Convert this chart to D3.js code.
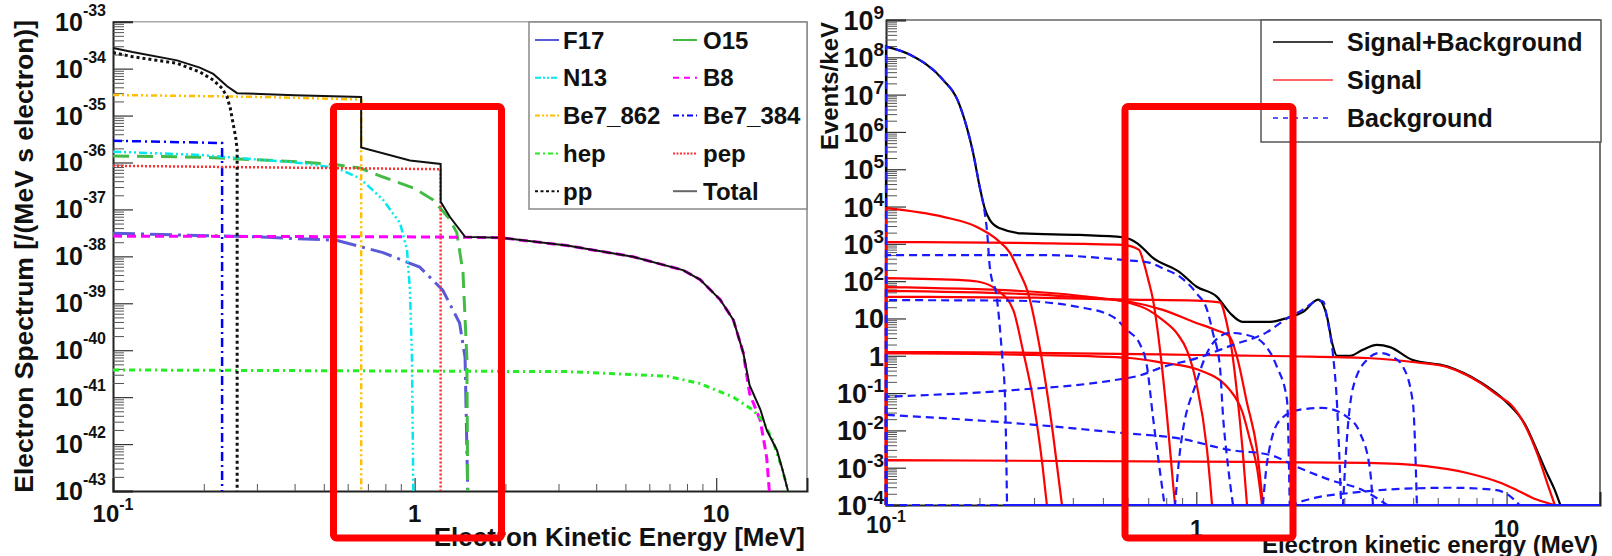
<!DOCTYPE html>
<html><head><meta charset="utf-8">
<script src="https://cdn.jsdelivr.net/npm/d3@7"></script>
<style>body{margin:0;background:#fff;} svg{display:block;font-family:"Liberation Sans",Arial,sans-serif;font-weight:bold;}</style>
</head><body><svg id="c" width="1612" height="556"></svg>
<script>
// ---------------- LEFT PANEL DATA (Electron spectrum [/(MeV s electron)] vs MeV) ----------------
const F17 = [[0.1,3.1e-38],[0.3,2.6e-38],[0.55,2.2e-38],[0.786,1.2e-38],[1.04,5.9e-39],[1.24,1.9e-39],[1.41,3.8e-40],[1.47,7e-41],[1.5,1e-43]];
const O15 = [[0.1,1.38e-36],[0.194,1.3e-36],[0.417,1.03e-36],[0.553,8.9e-37],[0.659,7.6e-37],[0.786,4.9e-37],[1.0,2.8e-37],[1.15,1.6e-37],[1.3,6.5e-38],[1.38,3.2e-38],[1.447,4.5e-39],[1.49,7e-41],[1.5,1e-43]];
const N13 = [[0.1,1.7e-36],[0.194,1.45e-36],[0.417,9.8e-37],[0.553,7.6e-37],[0.659,4.6e-37],[0.786,1.6e-37],[0.895,5.1e-38],[0.944,1.35e-38],[0.965,1.9e-39],[0.98,7e-41],[0.99,1e-43]];
const B8 = [[0.1,2.7e-38],[1.0,2.6e-38],[1.49,2.55e-38],[1.92,2.5e-38],[3.2,1.7e-38],[5.3,9.8e-39],[7.76,5.1e-39],[8.84,3.2e-39],[10.3,1.2e-39],[11.4,4.4e-40],[12.3,8.7e-41],[12.9,1.2e-41],[14.0,3.2e-42],[14.7,5.2e-43],[15.0,1e-43]];
const Be7_862 = [[0.1,2.75e-35],[0.3,2.5e-35],[0.665,2.2e-35],[0.665,1e-43]];
const Be7_384 = [[0.1,2.9e-36],[0.23,2.6e-36],[0.23,1e-43]];
const hep = [[0.1,3.8e-41],[3.2,3.5e-41],[6.87,2.8e-41],[8.84,1.95e-41],[11.4,1.0e-41],[13.2,5.4e-42],[14.2,3.3e-42],[15.4,1.2e-42],[16.6,2.8e-43],[17.3,1e-43]];
const pep = [[0.1,8.5e-37],[1.22,7.2e-37],[1.22,1e-43]];
const pp = [[0.1,2.2e-34],[0.116,1.8e-34],[0.14,1.5e-34],[0.163,1.3e-34],[0.194,8.5e-35],[0.215,5.7e-35],[0.23,3.8e-35],[0.239,2.5e-35],[0.245,1.4e-35],[0.25,6.9e-36],[0.255,3.5e-36],[0.258,1.9e-36],[0.258,1e-43]];
const Total = [[0.1,2.75e-34],[0.116,2.25e-34],[0.163,1.5e-34],[0.194,1.05e-34],[0.215,7.7e-35],[0.239,4.2e-35],[0.258,3.0e-35],[0.4,2.7e-35],[0.665,2.5e-35],[0.665,2.1e-36],[0.965,1.1e-36],[1.22,9.3e-37],[1.22,1.45e-37],[1.31,6.9e-38],[1.47,2.6e-38],[1.92,2.5e-38],[3.2,1.7e-38],[5.3,9.8e-39],[7.76,5.1e-39],[8.84,3.2e-39],[10.3,1.2e-39],[11.4,4.4e-40],[12.3,8.7e-41],[12.9,1.8e-41],[14.0,5.5e-42],[14.7,2e-42],[15.9,7.4e-43],[16.6,2.8e-43],[17.3,1e-43]];
const leftLegendNames = ["F17","O15","N13","B8","Be7_862","Be7_384","hep","pep","pp","Total"];
const leftYExponents = [-43,-42,-41,-40,-39,-38,-37,-36,-35,-34,-33];
const leftXLabels = [[0.1,"10","-1"],[1,"1",""],[10,"10",""]];

// ---------------- RIGHT PANEL DATA (Events/keV vs MeV) ----------------
const sumSB = [[0.1,1.93e8],[0.12,1.15e8],[0.153,2.45e7],[0.17,7.2e6],[0.182,1.35e6],[0.19,3.3e5],[0.201,3e4],[0.208,9e3],[0.216,4.4e3],[0.233,2.6e3],[0.276,1.9e3],[0.422,1.73e3],[0.58,1.5e3],[0.644,1.05e3],[0.725,420],[0.887,170],[1.0,72],[1.166,38],[1.284,14],[1.41,8.1],[1.73,8.1],[1.96,10.3],[2.21,15],[2.47,32],[2.64,11],[2.74,2.2],[2.84,1.0],[3.13,1.0],[3.44,1.45],[3.82,1.95],[4.21,1.7],[4.96,0.78],[6.43,0.52],[8.2,0.2],[10.0,0.057],[11.5,0.014],[12.6,2.6e-3],[13.5,7e-4],[14.3,2.5e-4],[14.9,1e-4]];
const sigPP = [[0.1,9.1e3],[0.153,5.3e3],[0.197,2.8e3],[0.228,1.3e3],[0.251,570],[0.27,165],[0.285,58],[0.314,1.43],[0.345,8.5e-3],[0.369,1e-4]];
const sigBe7_384 = [[0.1,120],[0.18,105],[0.201,95],[0.228,58],[0.257,17],[0.276,1.43],[0.298,0.066],[0.32,1e-3],[0.33,1e-4]];
const sigBe7_862 = [[0.1,1.12e3],[0.3,1.05e3],[0.58,940],[0.654,690],[0.673,370],[0.7,110],[0.725,32],[0.764,1.45],[0.805,0.023],[0.841,4e-4],[0.854,1e-4]];
const sigN13 = [[0.1,69],[0.3,52],[0.45,38],[0.61,26],[0.7,17],[0.78,9],[0.87,3.8],[0.933,1.4],[1.0,0.19],[1.083,3e-3],[1.124,1e-4]];
const sigO15 = [[0.1,55],[0.3,44],[0.45,35],[0.61,28],[0.78,17],[1.0,7.6],[1.15,5],[1.284,3.2],[1.353,0.93],[1.457,0.054],[1.569,3e-3],[1.64,1e-4]];
const sigPep = [[0.1,38],[0.3,36],[0.61,32],[1.0,30],[1.19,27],[1.256,7],[1.3,1.5],[1.353,0.1],[1.41,3e-3],[1.457,1e-4]];
const sigF17 = [[0.1,1.17],[0.3,1.05],[0.61,0.87],[0.78,0.65],[1.0,0.44],[1.284,0.12],[1.41,0.03],[1.49,5.5e-3],[1.569,1e-3],[1.628,1e-4]];
const sigB8 = [[0.1,1.26],[0.3,1.2],[1.0,1.05],[2.0,0.97],[3.55,0.87],[5.15,0.66],[6.43,0.5],[7.46,0.3],[8.2,0.19],[9.5,0.08],[10.3,0.05],[11.5,0.013],[12.6,2.2e-3],[13.5,4e-4],[14.3,1e-4]];
const sigHep = [[0.1,1.6e-3],[1.0,1.45e-3],[3.55,1.35e-3],[5.5,1.1e-3],[7.46,7.2e-4],[9.5,4e-4],[10.8,2.5e-4],[12.5,1.4e-4],[14.3,1e-4]];
const bkgC14 = [[0.1,1.93e8],[0.12,1.15e8],[0.153,2.45e7],[0.17,7.2e6],[0.182,1.35e6],[0.19,3.3e5],[0.201,3e4],[0.208,7e3],[0.212,1.9e3],[0.216,240],[0.228,32],[0.236,1.4],[0.242,0.066],[0.2455,1e-4]];
const bkgBi210 = [[0.1,500],[0.32,500],[0.58,370],[0.71,310],[0.78,220],[0.887,130],[1.0,48],[1.083,17],[1.132,4],[1.192,0.5],[1.22,0.023],[1.26,1.5e-3],[1.313,1e-4]];
const bkgKr85 = [[0.1,31],[0.257,30],[0.422,20],[0.539,11],[0.598,4.9],[0.659,2.0],[0.694,0.5],[0.725,0.023],[0.79,1e-4]];
const bkgRise = [[0.1,0.08],[0.257,0.12],[0.54,0.22],[0.66,0.3],[0.78,0.5],[1.0,0.85],[1.3,1.9],[1.69,4.3],[1.96,10],[2.2,17],[2.47,30],[2.57,28],[2.64,10],[2.76,1.0],[2.84,0.054],[2.93,1e-4]];
const bkgFall = [[0.1,0.026],[0.25,0.016],[0.58,8.5e-3],[0.89,6e-3],[1.28,3e-3],[1.73,2.2e-3],[2.11,1.05e-3],[2.7,4.7e-4],[3.44,2.5e-4],[4.12,1e-4]];
const bkgHumpA = [[0.854,1e-4],[0.887,3e-3],[1.0,0.19],[1.132,2.2],[1.284,4.1],[1.457,3.6],[1.64,2.2],[1.82,0.5],[1.96,0.066],[2.0,1e-4]];
const bkgHumpB = [[1.64,1e-4],[1.69,1.35e-3],[1.86,0.019],[2.16,0.036],[2.55,0.04],[3.06,0.023],[3.37,8.5e-3],[3.63,8.7e-4],[3.71,1e-4]];
const bkgHumpC = [[2.97,1e-4],[3.06,6.6e-3],[3.2,0.14],[3.55,0.78],[3.9,1.19],[4.3,0.93],[4.64,0.5],[4.99,0.054],[5.14,1e-4]];
const bkgHumpD = [[2.0,1e-4],[2.45,1.6e-4],[3.13,2.1e-4],[4.54,2.7e-4],[6.57,2.9e-4],[9.0,2.6e-4],[10.1,1.9e-4],[11.0,1e-4]];
const rightLegendNames = ["Signal+Background","Signal","Background"];
const rightYExponents = [-4,-3,-2,-1,0,1,2,3,4,5,6,7,8,9];
const rightXLabels = [[0.1,"10","-1"],[1,"1",""],[10,"10",""]];

// ---------------- DRAWING ----------------
const svg = d3.select("#c");
const defs = svg.append("defs");

function minorVals(e0, e1){ const a=[]; for(let e=e0;e<e1;e++) for(let m=2;m<=9;m++) a.push(m*Math.pow(10,e)); return a; }
function supLabel(g, x, y, base, exp, fs, efs, dy, anchor){
  const t = g.append("text").attr("x",x).attr("y",y).attr("text-anchor",anchor).attr("font-size",fs).attr("fill","#111").text(base);
  if(exp) t.append("tspan").attr("font-size",efs).attr("dy",dy).text(exp);
  return t;
}

// ===== LEFT =====
const L = {x0:113, x1:807, y0:21.7, y1:491};
const xL = d3.scaleLog().domain([0.1,20]).range([L.x0,L.x1]);
const yL = d3.scaleLog().domain([1e-43,1e-33]).range([L.y1,L.y0]).clamp(true);
defs.append("clipPath").attr("id","clipL").append("rect").attr("x",L.x0).attr("y",L.y0-2).attr("width",L.x1-L.x0).attr("height",L.y1-L.y0+3);

const gL = svg.append("g");
// frame
gL.append("line").attr("x1",L.x0).attr("x2",L.x1).attr("y1",L.y0).attr("y2",L.y0).attr("stroke","#aaa").attr("stroke-width",1.5);
gL.append("line").attr("x1",L.x1).attr("x2",L.x1).attr("y1",L.y0).attr("y2",L.y1).attr("stroke","#888").attr("stroke-width",1.5);
// y axis ticks
gL.append("g").attr("transform",`translate(${L.x0},0)`).call(d3.axisLeft(yL).tickValues(leftYExponents.map(e=>Math.pow(10,e))).tickSize(-20).tickFormat("")).call(g=>{g.select(".domain").attr("stroke","#222").attr("stroke-width",2);g.selectAll(".tick line").attr("stroke","#333").attr("stroke-width",1.2);});
gL.append("g").attr("transform",`translate(${L.x0},0)`).call(d3.axisLeft(yL).tickValues(minorVals(-43,-33)).tickSize(-11).tickFormat("")).call(g=>{g.select(".domain").remove();g.selectAll(".tick line").attr("stroke","#555").attr("stroke-width",1);});
// x axis ticks
gL.append("g").attr("transform",`translate(0,${L.y1})`).call(d3.axisBottom(xL).tickValues([1,10]).tickSize(-13).tickFormat("")).call(g=>{g.select(".domain").attr("stroke","#222").attr("stroke-width",2);g.selectAll(".tick line").attr("stroke","#333").attr("stroke-width",1.2);});
gL.append("g").attr("transform",`translate(0,${L.y1})`).call(d3.axisBottom(xL).tickValues([0.2,0.3,0.4,0.5,0.6,0.7,0.8,0.9,2,3,4,5,6,7,8,9]).tickSize(-7).tickFormat("")).call(g=>{g.select(".domain").remove();g.selectAll(".tick line").attr("stroke","#555").attr("stroke-width",1);});
// y labels
leftYExponents.forEach(e=>supLabel(gL,106,yL(Math.pow(10,e))+9,"10",String(e),25,16,-15,"end"));
leftXLabels.forEach(d=>{ supLabel(gL,xL(d[0])+(d[2]?0:0),522,d[1],d[2],24,16,-12,"middle"); });
// titles
gL.append("text").attr("transform","translate(33,20) rotate(-90)").attr("text-anchor","end").attr("font-size",26.5).attr("fill","#111").text("Electron Spectrum [/(MeV s electron)]");
gL.append("text").attr("x",805).attr("y",546).attr("text-anchor","end").attr("font-size",26).attr("fill","#111").text("Electron Kinetic Energy [MeV]");

const leftSeries = [
  {name:"F17", data:F17, color:"#5a5ad6", dash:"22,6,3,6", w:3},
  {name:"O15", data:O15, color:"#44bb44", dash:"16,8", w:3},
  {name:"N13", data:N13, color:"#00e8f0", dash:"8,3,2,3,2,3,2,3", w:2.5},
  {name:"B8", data:B8, color:"#ff00ff", dash:"9,5", w:3},
  {name:"Be7_862", data:Be7_862, color:"#ffbf00", dash:"6,3,2,3,2,3", w:2.5},
  {name:"Be7_384", data:Be7_384, color:"#0000ff", dash:"9,4,2,4", w:2.5},
  {name:"hep", data:hep, color:"#22ee22", dash:"6,4,2,4", w:3},
  {name:"pep", data:pep, color:"#ff3030", dash:"2,2", w:2.5},
  {name:"pp", data:pp, color:"#111111", dash:"3,3", w:3},
  {name:"Total", data:Total, color:"#111111", dash:null, w:2}
];
const lineL = d3.line().x(d=>xL(d[0])).y(d=>yL(d[1]));
const gLc = gL.append("g").attr("clip-path","url(#clipL)");
leftSeries.forEach(s=>{
  gLc.append("path").attr("d",lineL(s.data)).attr("fill","none").attr("stroke",s.color).attr("stroke-width",s.w).attr("stroke-dasharray",s.dash);
});
// legend
const legL = gL.append("g");
legL.append("rect").attr("x",529).attr("y",22).attr("width",278).attr("height",187).attr("fill","#fff").attr("stroke","#888").attr("stroke-width",1.5);
const legSampleStyle = {F17:[null,"#5a5ad6"],O15:[null,"#44bb44"],N13:["6,2,2,2,2,2","#00e8f0"],B8:["6,5","#ff00ff"],Be7_862:["5,2,2,2,2,2","#ffbf00"],Be7_384:["6,3,2,3","#0000ff"],hep:["5,3,2,3","#22ee22"],pep:["2,1.5","#ff3030"],pp:["3,2.5","#111"],Total:[null,"#666"]};
leftLegendNames.forEach((n,i)=>{
  const col=i%2,row=Math.floor(i/2);
  const sx = col? 673:535, tx = col? 703:563, cy = 40 + row*37.8;
  const st = legSampleStyle[n];
  legL.append("line").attr("x1",sx).attr("x2",sx+24).attr("y1",cy).attr("y2",cy).attr("stroke",st[1]).attr("stroke-width",2).attr("stroke-dasharray",st[0]);
  legL.append("text").attr("x",tx).attr("y",cy+8.5).attr("font-size",24).attr("fill","#111").text(n);
});

// ===== RIGHT =====
const R = {x0:886, x1:1600, y0:20, y1:505};
const xR = d3.scaleLog().domain([0.1,20]).range([R.x0,R.x1]);
const yR = d3.scaleLog().domain([1e-4,1e9]).range([R.y1,R.y0]).clamp(true);
defs.append("clipPath").attr("id","clipR").append("rect").attr("x",R.x0-2).attr("y",R.y0).attr("width",R.x1-R.x0+2).attr("height",R.y1-R.y0+2);
const gR = svg.append("g");
gR.append("line").attr("x1",R.x0).attr("x2",R.x1).attr("y1",R.y0).attr("y2",R.y0).attr("stroke","#666").attr("stroke-width",1.5);
gR.append("line").attr("x1",R.x1).attr("x2",R.x1).attr("y1",R.y0).attr("y2",R.y1).attr("stroke","#444").attr("stroke-width",1.5);
gR.append("g").attr("transform",`translate(${R.x0},0)`).call(d3.axisLeft(yR).tickValues(rightYExponents.map(e=>Math.pow(10,e))).tickSize(-20).tickFormat("")).call(g=>{g.select(".domain").attr("stroke","#222").attr("stroke-width",2);g.selectAll(".tick line").attr("stroke","#333").attr("stroke-width",1.2);});
gR.append("g").attr("transform",`translate(${R.x0},0)`).call(d3.axisLeft(yR).tickValues(minorVals(-4,9)).tickSize(-11).tickFormat("")).call(g=>{g.select(".domain").remove();g.selectAll(".tick line").attr("stroke","#555").attr("stroke-width",1);});
gR.append("g").attr("transform",`translate(0,${R.y1})`).call(d3.axisBottom(xR).tickValues([1,10]).tickSize(-13).tickFormat("")).call(g=>{g.select(".domain").attr("stroke","#222").attr("stroke-width",2);g.selectAll(".tick line").attr("stroke","#333").attr("stroke-width",1.2);});
gR.append("g").attr("transform",`translate(0,${R.y1})`).call(d3.axisBottom(xR).tickValues([0.2,0.3,0.4,0.5,0.6,0.7,0.8,0.9,2,3,4,5,6,7,8,9]).tickSize(-7).tickFormat("")).call(g=>{g.select(".domain").remove();g.selectAll(".tick line").attr("stroke","#555").attr("stroke-width",1);});
rightYExponents.forEach(e=>{
  const v=Math.pow(10,e);
  if(e===0) supLabel(gR,884,yR(v)+10,"1","",27,19,-11,"end");
  else if(e===1) supLabel(gR,884,yR(v)+10,"10","",27,19,-11,"end");
  else supLabel(gR,884,yR(v)+10,"10",String(e),27,19,-11,"end");
});
rightXLabels.forEach(d=>{ supLabel(gR,xR(d[0]),d[2]?533:537,d[1],d[2],23,16,-11,"middle"); });
gR.append("text").attr("transform","translate(838,22) rotate(-90)").attr("text-anchor","end").attr("font-size",24).attr("fill","#111").text("Events/keV");
gR.append("text").attr("x",1598).attr("y",553).attr("text-anchor","end").attr("font-size",24).attr("fill","#111").text("Electron kinetic energy (MeV)");

const floorR = 1e-4;
const lineR = d3.line().x(d=>xR(d[0])).y(d=>yR(Math.max(d[1],floorR))).curve(d3.curveMonotoneX);
function pathR(data, extendEnd){
  let p = lineR(data);
  const fy = yR(floorR);
  p = "M"+xR(0.1)+","+fy+"L"+p.slice(1);
  if(extendEnd) p += "L"+xR(20)+","+fy;
  return p;
}
const gRc = gR.append("g").attr("clip-path","url(#clipR)");
gRc.append("path").attr("d",pathR(sumSB,false)).attr("fill","none").attr("stroke","#000").attr("stroke-width",2.2);
const signals = [sigPP,sigBe7_384,sigBe7_862,sigN13,sigO15,sigPep,sigF17,sigB8,sigHep];
signals.forEach(s=>gRc.append("path").attr("d",pathR(s,true)).attr("fill","none").attr("stroke","#ff0000").attr("stroke-width",2.2));
const backgrounds = [bkgC14,bkgBi210,bkgKr85,bkgRise,bkgFall,bkgHumpA,bkgHumpB,bkgHumpC,bkgHumpD];
backgrounds.forEach(s=>gRc.append("path").attr("d",pathR(s,true)).attr("fill","none").attr("stroke","#1a1aff").attr("stroke-width",2.2).attr("stroke-dasharray","8,5"));

// legend right
const legR = gR.append("g");
legR.append("rect").attr("x",1261).attr("y",20).attr("width",340).attr("height",122).attr("fill","#fff").attr("stroke","#555").attr("stroke-width",1.5);
const rStyles = [["#000",null],["#ff3333",null],["#2222ff","5,5"]];
rightLegendNames.forEach((n,i)=>{
  const cy = 42 + i*38;
  legR.append("line").attr("x1",1273).attr("x2",1333).attr("y1",cy).attr("y2",cy).attr("stroke",rStyles[i][0]).attr("stroke-width",1.5).attr("stroke-dasharray",rStyles[i][1]);
  legR.append("text").attr("x",1347).attr("y",cy+9).attr("font-size",25).attr("fill","#111").text(n);
});

// ===== red highlight boxes =====
svg.append("rect").attr("x",333.5).attr("y",106.5).attr("width",168).attr("height",431.5).attr("rx",3).attr("fill","none").attr("stroke","#ff0000").attr("stroke-width",7);
svg.append("rect").attr("x",1125).attr("y",106.5).attr("width",168).attr("height",431.5).attr("rx",3).attr("fill","none").attr("stroke","#ff0000").attr("stroke-width",7);
</script></body></html>
